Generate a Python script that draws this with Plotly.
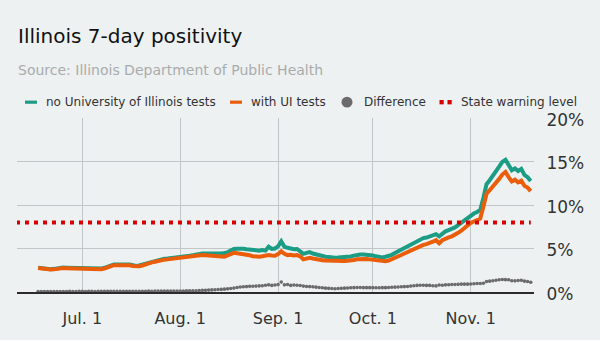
import plotly.graph_objects as go
import pandas as pd

# ---------------- data (daily, starting 2020-06-17) ----------------
start_date = "2020-06-17"

no_ui_tests = [
    2.80, 2.73, 2.67, 2.66, 2.63, 2.66, 2.74, 2.77, 2.81, 2.80,
    2.79, 2.78, 2.76, 2.75, 2.73, 2.70, 2.69, 2.67, 2.66, 2.67,
    2.69, 2.78, 2.92, 3.10, 3.16, 3.15, 3.18, 3.18, 3.20, 3.16,
    3.09, 3.00, 3.04, 3.14, 3.29, 3.40, 3.49, 3.58, 3.70, 3.78,
    3.83, 3.85, 3.91, 3.95, 4.00, 4.06, 4.08, 4.13, 4.16, 4.22,
    4.30, 4.37, 4.43, 4.42, 4.40, 4.41, 4.40, 4.40, 4.42, 4.48,
    4.56, 4.78, 4.95, 4.98, 5.00, 4.98, 4.92, 4.87, 4.78, 4.74,
    4.75, 4.82, 4.75, 5.20, 4.95, 5.00, 5.25, 5.83, 5.20, 5.08,
    4.98, 4.92, 4.95, 4.72, 4.38, 4.50, 4.58, 4.42, 4.30, 4.20,
    4.12, 4.06, 4.02, 3.96, 3.95, 3.96, 3.98, 4.00, 4.04, 4.08,
    4.18, 4.28, 4.32, 4.30, 4.28, 4.25, 4.20, 4.10, 4.03, 3.98,
    4.05, 4.12, 4.27, 4.48, 4.68, 4.85, 5.04, 5.22, 5.43, 5.64,
    5.88, 6.10, 6.20, 6.26, 6.36, 6.50, 6.65, 6.40, 6.73, 6.97,
    7.12, 7.26, 7.42, 7.68, 7.95, 8.25, 8.55, 8.85, 9.02, 9.20,
    9.43, 10.80, 12.40, 12.85, 13.35, 13.75, 14.40, 14.95, 15.20, 14.60,
    14.00, 14.20, 13.90, 14.15, 13.45, 13.20, 12.75,
]

with_ui_tests = [
    2.75, 2.68, 2.62, 2.60, 2.58, 2.60, 2.68, 2.72, 2.75, 2.74,
    2.72, 2.72, 2.70, 2.68, 2.66, 2.64, 2.62, 2.60, 2.60, 2.60,
    2.62, 2.70, 2.85, 3.02, 3.08, 3.08, 3.10, 3.10, 3.12, 3.08,
    3.00, 2.92, 2.95, 3.05, 3.20, 3.30, 3.40, 3.48, 3.60, 3.68,
    3.72, 3.75, 3.80, 3.84, 3.88, 3.94, 3.96, 4.00, 4.02, 4.08,
    4.15, 4.20, 4.24, 4.22, 4.18, 4.17, 4.14, 4.08, 4.04, 4.06,
    4.20, 4.38, 4.50, 4.46, 4.42, 4.38, 4.30, 4.22, 4.12, 4.06,
    4.05, 4.10, 4.18, 4.24, 4.20, 4.17, 4.35, 4.68, 4.40, 4.24,
    4.28, 4.20, 4.24, 4.10, 3.75, 3.85, 3.94, 3.85, 3.75, 3.67,
    3.65, 3.62, 3.60, 3.56, 3.55, 3.56, 3.56, 3.56, 3.58, 3.60,
    3.68, 3.76, 3.80, 3.80, 3.78, 3.75, 3.70, 3.62, 3.55, 3.50,
    3.55, 3.62, 3.75, 3.92, 4.10, 4.25, 4.42, 4.58, 4.75, 4.92,
    5.12, 5.32, 5.42, 5.50, 5.60, 5.78, 5.95, 5.60, 5.95, 6.15,
    6.28, 6.40, 6.55, 6.80, 7.05, 7.35, 7.65, 7.95, 8.10, 8.25,
    8.45, 9.80, 11.30, 11.70, 12.10, 12.50, 13.00, 13.50, 13.80, 13.20,
    12.70, 12.90, 12.60, 12.80, 12.20, 12.00, 11.60,
]

difference = [
    0.05, 0.05, 0.05, 0.06, 0.05, 0.06, 0.06, 0.05, 0.06, 0.06,
    0.07, 0.06, 0.06, 0.07, 0.07, 0.06, 0.07, 0.07, 0.06, 0.07,
    0.07, 0.08, 0.07, 0.08, 0.08, 0.07, 0.08, 0.08, 0.08, 0.08,
    0.09, 0.08, 0.09, 0.09, 0.09, 0.10, 0.09, 0.10, 0.10, 0.10,
    0.11, 0.10, 0.11, 0.11, 0.12, 0.12, 0.12, 0.13, 0.14, 0.14,
    0.15, 0.17, 0.19, 0.20, 0.22, 0.24, 0.26, 0.28, 0.30, 0.33,
    0.36, 0.40, 0.45, 0.52, 0.58, 0.60, 0.62, 0.65, 0.66, 0.68,
    0.70, 0.72, 0.78, 0.82, 0.76, 0.80, 0.85, 1.15, 0.82, 0.86,
    0.76, 0.80, 0.78, 0.74, 0.68, 0.64, 0.62, 0.60, 0.56, 0.52,
    0.48, 0.44, 0.42, 0.40, 0.38, 0.40, 0.42, 0.44, 0.46, 0.48,
    0.50, 0.52, 0.52, 0.50, 0.50, 0.50, 0.50, 0.48, 0.48, 0.50,
    0.50, 0.52, 0.54, 0.56, 0.58, 0.60, 0.62, 0.64, 0.68, 0.72,
    0.76, 0.78, 0.78, 0.76, 0.76, 0.72, 0.70, 0.80, 0.78, 0.82,
    0.84, 0.86, 0.87, 0.88, 0.90, 0.90, 0.90, 0.92, 0.95, 0.98,
    0.98, 1.00, 1.20, 1.25, 1.30, 1.35, 1.40, 1.44, 1.42, 1.40,
    1.30, 1.28, 1.32, 1.35, 1.25, 1.20, 1.12,
]

warning_level = 8
warning_dates = ["2020-06-10", "2020-11-20"]

x_tick_dates = ["2020-07-01", "2020-08-01", "2020-09-01", "2020-10-01", "2020-11-01"]
x_tick_labels = ["Jul. 1", "Aug. 1", "Sep. 1", "Oct. 1", "Nov. 1"]
y_tick_values = [0, 5, 10, 15, 20]
y_tick_labels = ["0%", "5%", "10%", "15%", "20%"]

legend_labels = ["no University of Illinois tests", "with UI tests", "Difference", "State warning level"]

title_text = "Illinois 7-day positivity"
subtitle_text = "Source: Illinois Department of Public Health"

assert len(no_ui_tests) == len(with_ui_tests) == len(difference)
dates = pd.date_range(start_date, periods=len(no_ui_tests), freq="D")

# ---------------- style ----------------
GREEN = "#1b9c85"
ORANGE = "#ea5d0b"
GRAY = "#6b6b6b"
RED = "#d60000"
BG = "#edf1f2"
GRID = "#c2c6c8"
FONT = "DejaVu Sans"

W, H = 600, 340
L, R, T, B = 17, 66, 118, 46
PW, PH = W - L - R, H - T - B


def px(x):
    return (x - L) / PW


def py(y):
    return (H - B - y) / PH


fig = go.Figure()

fig.add_trace(go.Scatter(x=dates, y=no_ui_tests, mode="lines",
                         line=dict(color=GREEN, width=4), showlegend=False,
                         hoverinfo="skip"))
fig.add_trace(go.Scatter(x=dates, y=with_ui_tests, mode="lines",
                         line=dict(color=ORANGE, width=4), showlegend=False,
                         hoverinfo="skip"))
fig.add_trace(go.Scatter(x=dates, y=difference, mode="markers",
                         marker=dict(color=GRAY, size=3.6, line=dict(width=0)),
                         showlegend=False, hoverinfo="skip"))
fig.add_trace(go.Scatter(x=warning_dates, y=[warning_level, warning_level], mode="lines",
                         line=dict(color=RED, width=4, dash="4px,5px"),
                         showlegend=False, hoverinfo="skip"))

shapes = []
annotations = []

# title / subtitle
annotations.append(dict(text=title_text, x=px(16), y=py(35), xref="paper", yref="paper",
                        xanchor="left", yanchor="middle", showarrow=False,
                        font=dict(family=FONT, size=20, color="#111111")))
annotations.append(dict(text=subtitle_text, x=px(16), y=py(69.5), xref="paper", yref="paper",
                        xanchor="left", yanchor="middle", showarrow=False,
                        font=dict(family=FONT, size=14, color="#a9acad")))

# legend (manual)
ly = 102
shapes.append(dict(type="rect", xref="paper", yref="paper", x0=px(25), x1=px(37),
                   y0=py(ly + 1.6), y1=py(ly - 1.6), fillcolor=GREEN, line=dict(width=0)))
shapes.append(dict(type="rect", xref="paper", yref="paper", x0=px(230), x1=px(242),
                   y0=py(ly + 1.6), y1=py(ly - 1.6), fillcolor=ORANGE, line=dict(width=0)))
shapes.append(dict(type="circle", xref="paper", yref="paper", x0=px(341.5), x1=px(352.5),
                   y0=py(ly + 5.5), y1=py(ly - 5.5), fillcolor=GRAY, line=dict(width=0)))
for x0 in (439.5, 447.5):
    shapes.append(dict(type="rect", xref="paper", yref="paper", x0=px(x0), x1=px(x0 + 4.2),
                       y0=py(ly + 2.2), y1=py(ly - 2.2), fillcolor=RED, line=dict(width=0)))
for label, lx in zip(legend_labels, (44, 249, 362, 459)):
    annotations.append(dict(text=label, x=px(lx), y=py(ly), xref="paper", yref="paper",
                            xanchor="left", yanchor="middle", showarrow=False,
                            font=dict(family=FONT, size=12, color="#333333")))

fig.update_layout(
    width=W, height=H,
    margin=dict(l=L, r=R, t=T, b=B, pad=0),
    paper_bgcolor=BG, plot_bgcolor=BG,
    font=dict(family=FONT, color="#333333"),
    shapes=shapes, annotations=annotations,
    showlegend=False,
    hovermode=False,
)

fig.update_xaxes(
    type="date",
    range=["2020-06-10 07:40", "2020-11-21 00:45"],
    tickvals=x_tick_dates, ticktext=x_tick_labels,
    showgrid=True, gridcolor=GRID, gridwidth=1,
    showline=True, linecolor="#2b2b2b", linewidth=1.5,
    ticks="outside", ticklen=11, tickcolor="rgba(0,0,0,0)",
    tickfont=dict(family=FONT, size=16, color="#333333"),
    zeroline=False, fixedrange=True,
)
fig.update_yaxes(
    range=[0, 20], side="right",
    tickvals=y_tick_values, ticktext=y_tick_labels,
    showgrid=True, gridcolor=GRID, gridwidth=1,
    zeroline=False, showline=False,
    ticks="outside", ticklen=8, tickcolor="rgba(0,0,0,0)",
    ticklabelshift=2,
    tickfont=dict(family=FONT, size=17, color="#333333"),
    fixedrange=True,
)

fig.write_html("out.html", config={"displayModeBar": False})
